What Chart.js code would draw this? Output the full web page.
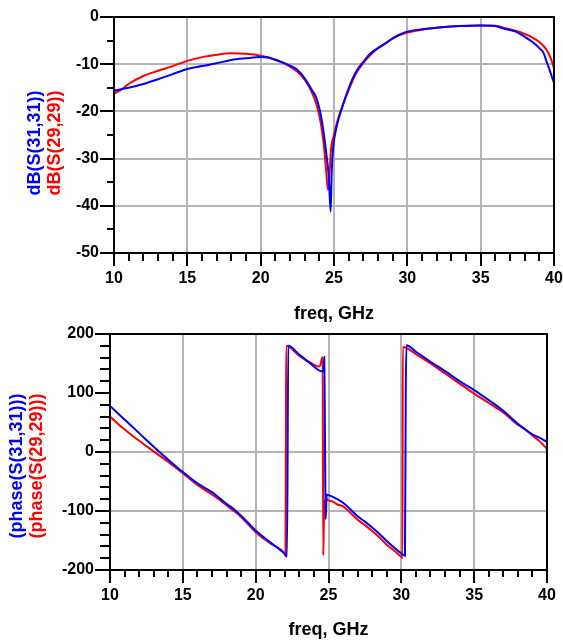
<!DOCTYPE html>
<html>
<head>
<meta charset="utf-8">
<script src="https://cdn.jsdelivr.net/npm/chart.js@4/dist/chart.umd.min.js"></script>
<style>
  html, body { margin: 0; padding: 0; background: #fff; }
  #wrap { position: relative; width: 563px; height: 644px; }
  canvas { position: absolute; left: 0; }
  #magChart { top: 0; }
  #phaseChart { top: 322px; }
</style>
</head>
<body>
<div id="wrap">
  <canvas id="magChart" width="563" height="322"></canvas>
  <canvas id="phaseChart" width="563" height="322"></canvas>
</div>
<script>
// ---- Return loss, dB ----
const freqMag31 = [10, 11, 12, 13, 14, 15, 16, 17, 18, 19, 20, 20.5, 21, 21.5, 22, 22.5, 23, 23.5, 23.8, 24.1, 24.3, 24.5, 24.65, 24.77, 24.85, 24.95, 25.2, 25.5, 26, 26.5, 27, 27.5, 28, 28.5, 29, 29.5, 30, 31, 32, 33, 34, 35, 36, 36.5, 37, 37.5, 38, 38.5, 39, 39.3, 39.5, 39.7, 39.85, 40];
const dbS3131   = [-15.6, -15.0, -14.2, -13.2, -12.1, -11.0, -10.4, -9.8, -9.1, -8.75, -8.5, -8.6, -9.1, -9.6, -10.3, -11.2, -13.0, -15.5, -17.2, -20.8, -24.6, -29.6, -34.0, -41.2, -32.4, -27.5, -23.0, -19.7, -15.1, -11.6, -9.5, -7.7, -6.6, -5.6, -4.5, -3.7, -3.1, -2.6, -2.3, -2.0, -1.9, -1.8, -1.9, -2.4, -2.75, -3.25, -4.2, -5.2, -6.6, -7.7, -9.5, -11.2, -12.6, -13.9];

const freqMag29 = [10, 10.5, 11, 12, 13, 14, 15, 16, 17, 18, 19, 20, 21, 21.5, 22, 22.5, 23, 23.5, 23.8, 24.1, 24.3, 24.45, 24.6, 24.7, 24.8, 25.0, 25.2, 25.5, 26, 26.5, 27, 27.5, 28, 28.5, 29, 29.5, 30, 31, 32, 33, 34, 35, 36, 36.5, 37, 37.5, 38, 38.5, 39, 39.3, 39.5, 39.7, 39.85, 40];
const dbS2929   = [-16.2, -15.4, -14.2, -12.5, -11.4, -10.4, -9.3, -8.5, -8.0, -7.7, -7.8, -8.2, -9.0, -9.7, -10.5, -11.6, -13.3, -16.0, -18.5, -22.5, -27.0, -32.0, -36.7, -33.0, -28.0, -25.0, -22.4, -19.5, -15.5, -12.0, -9.7, -8.0, -6.6, -5.6, -4.6, -3.8, -3.3, -2.7, -2.3, -2.0, -1.85, -1.8, -1.85, -2.2, -2.6, -3.0, -3.6, -4.3, -5.3, -6.2, -7.0, -8.2, -9.4, -10.9];

// ---- Phase, degrees ----
const freqPh31 = [10, 11, 12, 13, 14, 15, 16, 17, 18, 18.3, 19, 20, 21, 22, 22.15, 22.24, 23, 24, 24.3, 24.5, 24.65, 24.71, 24.76, 24.8, 24.88, 25.0, 25.3, 25.6, 26, 26.5, 27, 27.5, 28, 28.5, 29, 29.5, 30, 30.25, 30.3, 30.35, 31, 32, 33, 34, 35, 36, 37, 38, 39, 39.5, 40];
const phS3131  = [78, 55, 32, 9, -13, -34, -53, -68, -88, -93, -108, -133, -153, -173, -177, 180, 165, 145, 139, 137, 137, 161, 20, -114, -72, -73, -76, -80, -86, -97, -109, -118, -128, -139, -151, -162, -172, -176, 90, 181, 170, 153, 137, 120, 105, 88, 70, 48, 30, 24, 17];

const freqPh29 = [10, 11, 12, 13, 14, 15, 16, 17, 18, 18.3, 19, 20, 21, 22, 22.05, 22.08, 22.11, 23, 23.86, 24.3, 24.42, 24.53, 24.6, 24.64, 24.7, 24.85, 25.0, 25.3, 25.6, 26, 26.5, 27, 27.5, 28, 28.5, 29, 29.5, 30, 30.08, 30.1, 31, 32, 33, 34, 35, 36, 37, 38, 38.4, 39, 39.5, 40];
const phS2929  = [60, 38, 19, 1, -17, -36, -56, -72, -90, -96, -110, -136, -155, -173, -176, 92, 180, 163, 150, 145, 146, 157, 161, -175, -95, -80, -82, -84, -89, -92, -103, -115, -124, -134, -145, -157, -167, -178, -180, 178, 166, 150, 133, 116, 99, 83, 67, 46, 40, 28, 18, 5];

// ---- Axis tick values ----
const freqTicks = [10, 15, 20, 25, 30, 35, 40];
const magTicks = [0, -10, -20, -30, -40, -50];
const phaseTicks = [200, 100, 0, -100, -200];

const BLUE = '#0000ff';
const RED = '#ff0000';
const GRID = '#b4b4b4';
const FONT = '"Liberation Sans", Arial, sans-serif';

function pts(xs, ys) { return xs.map((x, i) => ({ x, y: ys[i] })); }

// Frame, major/minor tick marks and the axis titles
const axisDecor = {
  id: 'axisDecor',
  afterDraw(chart, args, o) {
    const { ctx, chartArea: a, scales: { x, y } } = chart;
    ctx.save();
    ctx.strokeStyle = '#000';
    ctx.lineWidth = 2;
    ctx.strokeRect(a.left, a.top, a.right - a.left, a.bottom - a.top);
    ctx.beginPath();
    for (let v = x.min; v <= x.max + 1e-9; v += o.xMinor) {
      const px = Math.round(x.getPixelForValue(v));
      const major = Math.abs(v % o.xMajor) < 1e-9;
      ctx.moveTo(px, a.bottom);
      ctx.lineTo(px, a.bottom + (major ? o.xMajorLen : o.xMinorLen));
    }
    for (let v = y.min; v <= y.max + 1e-9; v += o.yMinor) {
      const py = Math.round(y.getPixelForValue(v));
      const major = Math.abs(v % o.yMajor) < 1e-9;
      ctx.moveTo(a.left, py);
      ctx.lineTo(a.left - (major ? o.yMajorLen : o.yMinorLen), py);
    }
    ctx.stroke();

    ctx.font = 'bold 18px ' + FONT;
    ctx.fillStyle = '#000';
    ctx.textAlign = 'center';
    ctx.textBaseline = 'middle';
    ctx.fillText('freq, GHz', (a.left + a.right) / 2, o.xTitleY);

    o.yTitles.forEach(t => {
      ctx.save();
      ctx.translate(t.x, o.yTitleY);
      ctx.rotate(-Math.PI / 2);
      ctx.fillStyle = t.color;
      ctx.fillText(t.text, 0, 0);
      ctx.restore();
    });
    ctx.restore();
  }
};

// Keep tick labels from pushing the plot area around
function noEdgePadding(s) {
  s.paddingLeft = 0; s.paddingRight = 0; s.paddingTop = 0; s.paddingBottom = 0;
}

function makeChart(id, cfg) {
  return new Chart(document.getElementById(id), {
    type: 'line',
    data: {
      datasets: [
        { data: pts(cfg.xs1, cfg.ys1), borderColor: BLUE, borderWidth: 2 },
        { data: pts(cfg.xs2, cfg.ys2), borderColor: RED, borderWidth: 2 }
      ]
    },
    options: {
      responsive: false,
      animation: false,
      events: [],
      layout: { padding: cfg.padding },
      elements: { point: { radius: 0 }, line: { cubicInterpolationMode: 'monotone', fill: false } },
      plugins: {
        legend: { display: false },
        tooltip: { enabled: false },
        axisDecor: cfg.decor
      },
      scales: {
        x: {
          type: 'linear', min: 10, max: 40,
          afterBuildTicks: s => { s.ticks = freqTicks.map(v => ({ value: v })); },
          afterFit: s => { s.height = cfg.xHeight; noEdgePadding(s); },
          border: { display: false },
          grid: {
            drawTicks: false, lineWidth: 2,
            color: c => (c.tick && c.tick.value > 10 && c.tick.value < 40) ? GRID : 'rgba(0,0,0,0)'
          },
          ticks: { padding: cfg.xPad, color: '#000', maxRotation: 0, font: { family: FONT, size: 16, weight: 'bold' } }
        },
        y: {
          type: 'linear', min: cfg.yMin, max: cfg.yMax,
          afterBuildTicks: s => { s.ticks = cfg.yTicks.map(v => ({ value: v })); },
          afterFit: s => { s.width = cfg.yWidth; noEdgePadding(s); },
          border: { display: false },
          grid: {
            drawTicks: false, lineWidth: 2,
            color: c => (c.tick && cfg.yGrid.includes(c.tick.value)) ? GRID : 'rgba(0,0,0,0)'
          },
          ticks: { padding: cfg.yPad, color: '#000', font: { family: FONT, size: 16, weight: 'bold' } }
        }
      }
    },
    plugins: [axisDecor]
  });
}

makeChart('magChart', {
  xs1: freqMag31, ys1: dbS3131, xs2: freqMag29, ys2: dbS2929,
  padding: { top: 17, right: 9, left: 0, bottom: 0 },
  xHeight: 69, yWidth: 114, xPad: 16, yPad: 15,
  yMin: -50, yMax: 0, yTicks: magTicks, yGrid: [-10, -20, -30, -40],
  decor: {
    xMinor: 1, xMajor: 5, xMajorLen: 13, xMinorLen: 8,
    yMinor: 5, yMajor: 10, yMajorLen: 14, yMinorLen: 7,
    xTitleY: 314, yTitleY: 143,
    yTitles: [
      { text: 'dB(S(31,31))', color: BLUE, x: 35 },
      { text: 'dB(S(29,29))', color: RED, x: 55 }
    ]
  }
});

makeChart('phaseChart', {
  xs1: freqPh31, ys1: phS3131, xs2: freqPh29, ys2: phS2929,
  padding: { top: 12, right: 16, left: 0, bottom: 0 },
  xHeight: 74, yWidth: 110, xPad: 16, yPad: 16,
  yMin: -200, yMax: 200, yTicks: phaseTicks, yGrid: [0, -100],
  decor: {
    xMinor: 1, xMajor: 5, xMajorLen: 13, xMinorLen: 7,
    yMinor: 20, yMajor: 100, yMajorLen: 15, yMinorLen: 10,
    xTitleY: 308, yTitleY: 144,
    yTitles: [
      { text: '(phase(S(31,31)))', color: BLUE, x: 17 },
      { text: '(phase(S(29,29)))', color: RED, x: 37 }
    ]
  }
});
</script>
</body>
</html>
